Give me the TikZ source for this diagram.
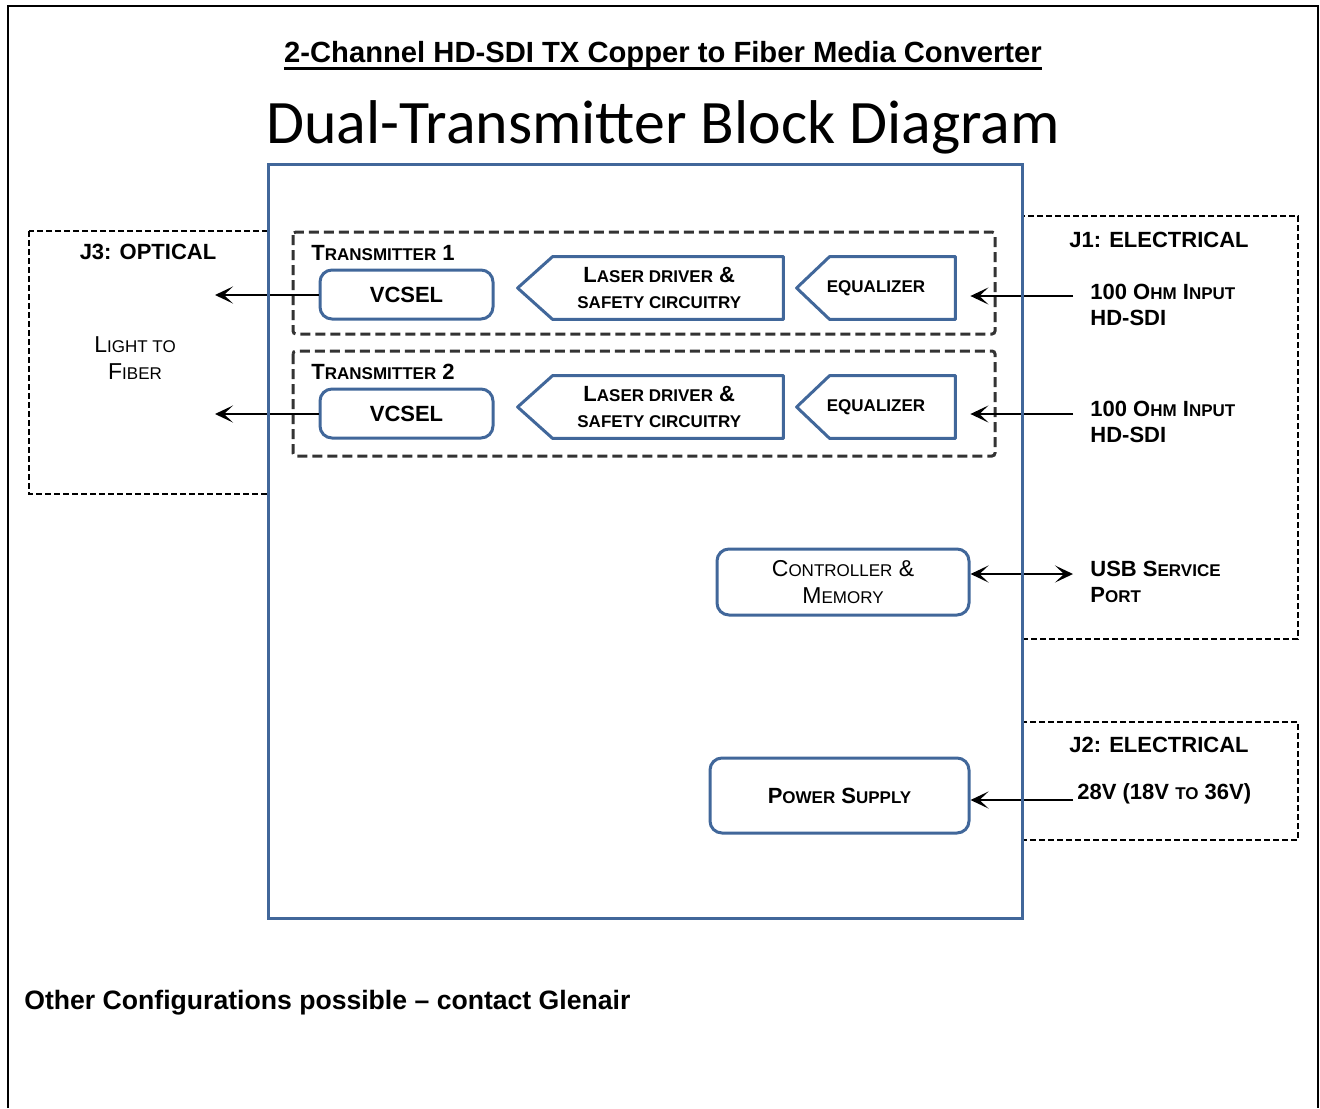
\documentclass[tikz,border=0pt]{standalone}
\usepackage{fontspec}
\setmainfont{Liberation Sans}
\newfontfamily\calfont{Carlito}
\usetikzlibrary{arrows.meta}

\definecolor{blockblue}{HTML}{41679A}
\definecolor{dashgray}{HTML}{333333}
\newcommand{\lo}[1]{{\fontsize{8.5}{10}\selectfont #1}}

\begin{document}
\begin{tikzpicture}[x=0.5pt, y=-0.5pt, >={Stealth[length=9pt,width=8.5pt,inset=4.5pt]},
    jbox/.style={draw=black, line width=1pt, dash pattern=on 3pt off 1.5pt},
    txbox/.style={draw=dashgray, line width=1.5pt, dash pattern=on 5pt off 2.5pt, rounded corners=1.5pt},
    blkline/.style={draw=blockblue, line width=1.5pt},
    rbox/.style={blkline, fill=white, rounded corners=6pt, inner sep=0pt},
    sigbox/.style={inner sep=0pt, minimum height=31pt, align=center},
    lbl/.style={font=\fontsize{11}{13}\selectfont\bfseries, inner sep=0pt},
    reg/.style={font=\fontsize{11.5}{13.5}\selectfont, inner sep=0pt, align=center},
    sig/.style={draw=black, line width=1pt}]

    \useasboundingbox (0,0) rectangle (1320,1108);
    \draw[line width=1pt] (8,1108) -- (8,6) -- (1318,6) -- (1318,1108);

    % titles
    \node[font=\fontsize{14.6}{17}\selectfont\bfseries, inner sep=0pt] (ttl) at (663,55) {2-Channel HD-SDI TX Copper to Fiber Media Converter};
    \draw[line width=1.1pt] ([yshift=-3pt]ttl.base west) -- ([yshift=-3pt]ttl.base east);
    \node[font=\calfont\fontsize{30.9}{37}\selectfont, inner sep=0pt] (sub) at (663,127) {Dual-Transmitter Block Diagram};

    % connector areas
    \draw[jbox] (29,231) rectangle (268,494);
    \draw[jbox] (1022,216) rectangle (1298,639);
    \draw[jbox] (1022,722) rectangle (1298,840);
    \node[lbl] (j3) at (148,252) {J3: OPTICAL};
    \node[lbl] (j1) at (1159,240) {J1: ELECTRICAL};
    \node[lbl] (j2) at (1159,745) {J2: ELECTRICAL};
    \node[reg] (fib) at (135,358) {L\lo{IGHT TO}\\F\lo{IBER}};

    % free ends of the connectors
    \coordinate (out1) at (215,295);
    \coordinate (out2) at (215,414);
    \coordinate (in1) at (1073,296);
    \coordinate (in2) at (1073,414);
    \coordinate (usb) at (1073,574);
    \coordinate (pwr) at (1073,800);

    % main box and transmitters
    \draw[txbox] (293,232) rectangle (995,334);
    \draw[txbox] (293,351) rectangle (995,456);

    % blocks
    \node[rbox, lbl, minimum width=86.5pt, minimum height=24.5pt] (vc1) at (406.5,294.5) {VCSEL};
    \node[rbox, lbl, minimum width=86.5pt, minimum height=24.5pt] (vc2) at (406.5,413.5) {VCSEL};
    \node[sigbox, lbl, minimum width=123.75pt] (ld1) at (659.25,288) {L\lo{ASER DRIVER} \&\\\lo{SAFETY CIRCUITRY}};
    \node[sigbox, lbl, minimum width=123.75pt] (ld2) at (659.25,407) {L\lo{ASER DRIVER} \&\\\lo{SAFETY CIRCUITRY}};
    \node[sigbox, lbl, minimum width=79pt] (eq1) at (876,288) {\lo{EQUALIZER}};
    \node[sigbox, lbl, minimum width=79pt] (eq2) at (876,407) {\lo{EQUALIZER}};
    \node[rbox, reg, minimum width=126pt, minimum height=33pt] (ctrl) at (843,582) {C\lo{ONTROLLER} \&\\M\lo{EMORY}};
    \node[rbox, lbl, minimum width=129.5pt, minimum height=37.5pt] (psu) at (839.5,795.5) {P\lo{OWER} S\lo{UPPLY}};
    \draw[blkline, line join=round] ([xshift=8.75pt]ld1.north west) -- (ld1.north east) -- (ld1.south east) -- ([xshift=8.75pt]ld1.south west) -- ([xshift=-8.75pt]ld1.west) -- cycle;
    \draw[blkline, line join=round] ([xshift=8.75pt]ld2.north west) -- (ld2.north east) -- (ld2.south east) -- ([xshift=8.75pt]ld2.south west) -- ([xshift=-8.75pt]ld2.west) -- cycle;
    \draw[blkline, line join=round] ([xshift=16.5pt]eq1.north west) -- (eq1.north east) -- (eq1.south east) -- ([xshift=16.5pt]eq1.south west) -- (eq1.west) -- cycle;
    \draw[blkline, line join=round] ([xshift=16.5pt]eq2.north west) -- (eq2.north east) -- (eq2.south east) -- ([xshift=16.5pt]eq2.south west) -- (eq2.west) -- cycle;

    \node[lbl, anchor=west, align=left] (tx1) at (311,253) {T\lo{RANSMITTER} 1};
    \node[lbl, anchor=west, align=left] (tx2) at (311,372) {T\lo{RANSMITTER} 2};
    \node[lbl, anchor=west, align=left] (hd1) at (1090,305) {100 O\lo{HM} I\lo{NPUT}\\HD-SDI};
    \node[lbl, anchor=west, align=left] (hd2) at (1090,422) {100 O\lo{HM} I\lo{NPUT}\\HD-SDI};
    \node[lbl, anchor=west, align=left] (usbtxt) at (1090,582) {USB S\lo{ERVICE}\\P\lo{ORT}};
    \node[lbl, anchor=west] (pwrtxt) at (1077,794) {28V (18V \lo{TO} 36V)};

    % connectors
    \draw[sig, ->] (vc1.west |- out1) -- (out1);
    \draw[sig, ->] (vc2.west |- out2) -- (out2);
    \draw[sig, ->, shorten >=7.5pt] (in1) -- (eq1.east |- in1);
    \draw[sig, ->, shorten >=7.5pt] (in2) -- (eq2.east |- in2);
    \draw[sig, <->] (ctrl.east |- usb) -- (usb);
    \draw[sig, ->] (pwr) -- (psu.east |- pwr);

    % main box on top of the crossing lines
    \draw[blkline] (268,164) rectangle (1022,918);

    % note
    \node[anchor=west, font=\fontsize{13.3}{16}\selectfont\bfseries, inner sep=0pt] (note) at (24,1003) {Other Configurations possible – contact Glenair};
\end{tikzpicture}
\end{document}
